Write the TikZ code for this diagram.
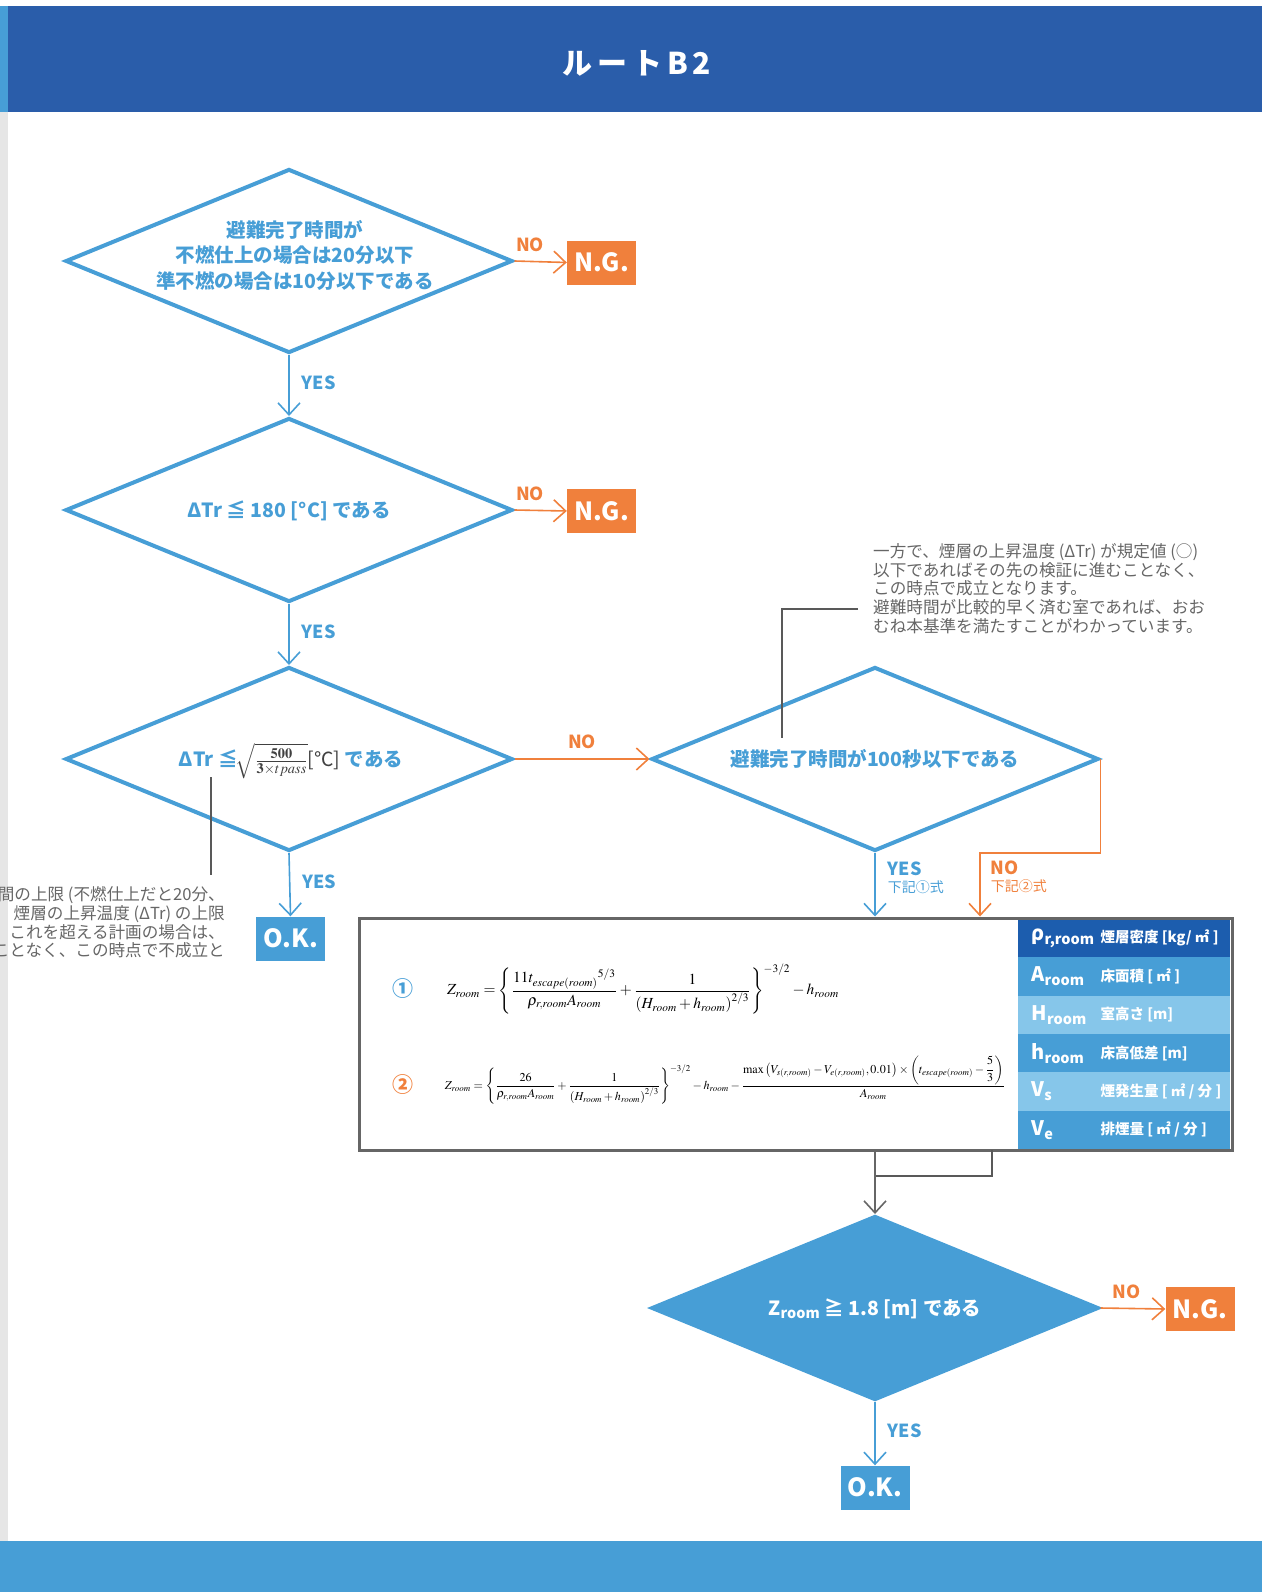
\documentclass[tikz,border=0pt]{standalone}
\usepackage{amsmath}
\usepackage{mathptmx}
\usepackage{graphicx}
\usepackage{fontspec}
\setmainfont{Noto Sans CJK JP}
\usetikzlibrary{shapes.geometric}
\usetikzlibrary{arrows.meta}
\usetikzlibrary{positioning}
\definecolor{bannerblue}{HTML}{2A5DAA}
\definecolor{flowblue}{HTML}{479ED6}
\definecolor{paleblue}{HTML}{86C6EA}
\definecolor{deepblue}{HTML}{1C5DAE}
\definecolor{ngorange}{HTML}{F0803C}
\definecolor{notegray}{HTML}{666666}
\definecolor{stripgray}{HTML}{E6E6E6}
\newcommand{\fs}[2]{\fontsize{#1}{#2}\selectfont}
\NewDocumentCommand{\dlabel}{O{0pt} O{7pt} m}{\smash{\raisebox{-#2}{\makebox[0pt]{\hspace{#1}\begin{tabular}{@{}c@{}}#3\end{tabular}}}}}
\newcommand{\symb}[2]{{\fs{20}{22}#1}\raisebox{-4pt}{\fs{14.5}{16}#2}}

\begin{document}
\begin{tikzpicture}[x=1pt,y=-1pt,
    decision/.style={diamond,draw=flowblue,line width=4pt,fill=white,
        minimum width=447pt,minimum height=184pt,inner sep=0pt,
        text=flowblue,font=\fs{19.5}{25.5}\bfseries},
    ngbox/.style={fill=ngorange,text=white,minimum width=69pt,
        minimum height=44pt,inner sep=0pt,font=\fs{25}{27}\bfseries},
    okbox/.style={ngbox,fill=flowblue},
    yesline/.style={draw=flowblue,line width=1.6pt,
        -{Straight Barb[length=12pt,width=22pt]}},
    noline/.style={yesline,draw=ngorange},
    grayline/.style={yesline,draw=black!60},
    yeslabel/.style={text=flowblue,font=\fs{18}{17}\bfseries,inner sep=0pt},
    nolabel/.style={yeslabel,text=ngorange},
    noteline/.style={draw=black!65,line width=1.2pt},
    notetext/.style={text=notegray,font=\fs{16.6}{18.7},inner sep=0pt}]
\useasboundingbox (0,0) rectangle (1262,1592);

% frame
\fill[stripgray] (0,112) rectangle (8,1541);
\fill[bannerblue] (0,6) rectangle (1262,112);
\fill[flowblue] (0,6) rectangle (8,112);
\fill[flowblue] (0,1541) rectangle (1262,1592);
\node[text=white,font=\fs{30}{32}\bfseries\addfontfeature{LetterSpace=16}] (title) at (637,63) {ルートB2};

\edef\cx{289}
\edef\dx{875}

% decisions
\node[decision] (d1) at (\cx,261) {\dlabel[12pt][1.5pt]{避難完了時間が\\不燃仕上の場合は20分以下\\準不燃の場合は10分以下である}};
\node[decision] (d2) at (\cx,510) {\dlabel{ΔTr ≦ 180 [°C] である}};
\node[decision] (d3) at (\cx,759) {\dlabel[4pt]{ΔTr ≦\hspace{-2pt}{\color{black!75}$\sqrt{\frac{\mathbf{500}}{\mathbf{3\times}\boldsymbol{tpass}}}$\mdseries[℃]} である}};
\node[decision] (d4) at (\dx,759) {\dlabel{避難完了時間が100秒以下である}};
\node[decision,fill=flowblue,text=white] (d5) at (\dx,1308) {\dlabel{Z\textsubscript{room} ≧ 1.8 [m] である}};

% results
\node[ngbox] (ng1) at (601.5,262.5) {N.G.};
\node[ngbox] (ng2) at (601.5,511) {N.G.};
\node[ngbox] (ng3) at (1200,1309) {N.G.};
\node[okbox] (ok1) at (290.5,938.5) {O.K.};
\node[okbox] (ok2) at (\dx,1487.5) {O.K.};

% table of symbols
\foreach \i/\c in {0/deepblue,1/flowblue,2/paleblue,3/flowblue,4/paleblue,5/flowblue}
    \fill[\c] (1018,{919+38.33*\i}) rectangle (1230,{957.33+38.33*\i});
\node[anchor=west,text=white,font=\bfseries] (sym1) at (1028,938) {\symb{ρ}{r,room}};
\node[anchor=west,text=white,font=\bfseries] (sym2) at (1028,976.5) {\symb{A}{room}};
\node[anchor=west,text=white,font=\bfseries] (sym3) at (1028,1014.8) {\symb{H}{room}};
\node[anchor=west,text=white,font=\bfseries] (sym4) at (1028,1053.2) {\symb{h}{room}};
\node[anchor=west,text=white,font=\bfseries] (sym5) at (1028,1091.5) {\symb{V}{s}};
\node[anchor=west,text=white,font=\bfseries] (sym6) at (1028,1129.8) {\symb{V}{e}};
\node[anchor=west,text=white,font=\fs{14.5}{16}\bfseries] (unit1) at (1097,938) {煙層密度 [kg/ ㎡ ]};
\node[anchor=west,text=white,font=\fs{14.5}{16}\bfseries] (unit2) at (1097,976.5) {床面積 [ ㎡ ]};
\node[anchor=west,text=white,font=\fs{14.5}{16}\bfseries] (unit3) at (1097,1014.8) {室高さ [m]};
\node[anchor=west,text=white,font=\fs{14.5}{16}\bfseries] (unit4) at (1097,1053.2) {床高低差 [m]};
\node[anchor=west,text=white,font=\fs{14.5}{16}\bfseries] (unit5) at (1097,1091.5) {煙発生量 [ ㎡ / 分 ]};
\node[anchor=west,text=white,font=\fs{14.5}{16}\bfseries] (unit6) at (1097,1129.8) {排煙量 [ ㎡ / 分 ]};

% formula box
\node[draw=black!60,line width=3pt,minimum width=873pt,minimum height=232pt,inner sep=0pt] (formulas) at (795.5,1034) {};
\node[text=flowblue,font=\fs{21}{22}\bfseries] (c1) at (403,989) {①};
\node (eq1) at (643,989) {\resizebox{392pt}{!}{$\displaystyle Z_{room}=\left\{\frac{11{t_{escape(room)}}^{5/3}}{\rho_{r,room}A_{room}}+\frac{1}{\left(H_{room}+h_{room}\right)^{2/3}}\right\}^{-3/2}-h_{room}$}};
\node[text=ngorange,font=\fs{21}{22}\bfseries] (c2) at (403,1085) {②};
\node (eq2) at (725,1080) {\resizebox{560pt}{!}{$\displaystyle Z_{room}=\left\{\frac{26}{\rho_{r,room}A_{room}}+\frac{1}{\left(H_{room}+h_{room}\right)^{2/3}}\right\}^{-3/2}-h_{room}-\frac{\displaystyle\max\left(V_{s(r,room)}-V_{e(r,room)},0.01\right)\times\left(t_{escape(room)}-\frac{5}{3}\right)}{A_{room}}$}};

% notes
\node[notetext,anchor=west,align=left] (note1) at (873,588.5) {一方で、煙層の上昇温度 (ΔTr) が規定値 (○)\\以下であればその先の検証に進むことなく、\\この時点で成立となります。\\避難時間が比較的早く済む室であれば、おお\\むね本基準を満たすことがわかっています。};
\node[notetext,anchor=east,align=right] (note2) at (225,922.5) {時間の上限 (不燃仕上だと20分、\\煙層の上昇温度 (ΔTr) の上限\\り、これを超える計画の場合は、\\ことなく、この時点で不成立と};
\coordinate (n1a) at (858,609);
\coordinate (n1b) at (782,738);
\coordinate (n2a) at (211,777);
\coordinate (n2b) at (211,875);
\draw[noteline] (n1a) -| (n1b);
\draw[noteline] (n2a) -- (n2b);

% connectors
\draw[yesline] (d1.south) -- (d2.north) node[midway,right=12pt,yshift=3pt,yeslabel] {YES};
\draw[yesline] (d2.south) -- (d3.north) node[midway,right=12pt,yshift=3pt,yeslabel] {YES};
\draw[yesline] (d3.south) -- (ok1.north) node[midway,right=12pt,yshift=3pt,yeslabel] {YES};
\draw[noline] (d1.east) -- (ng1.west) node[pos=0.3,above=9pt,nolabel] {NO};
\draw[noline] (d2.east) -- (ng2.west) node[pos=0.3,above=9pt,nolabel] {NO};
\draw[noline] (d3.east) -- (d4.west) node[midway,above=9pt,nolabel] {NO};
\draw[yesline] (d4.south) -- (d4.south |- formulas.north) node[midway,right=12pt,yshift=7pt,yeslabel,align=left] {YES\\{\fs{14}{16}\mdseries 下記①式}};
\coordinate (nobend) at (980,853);
\draw[noline] (d4.east) |- (nobend) -- (nobend |- formulas.north) node[midway,right=10pt,yshift=8pt,nolabel,align=left] {NO\\{\fs{14}{16}\mdseries 下記②式}};
\coordinate (tabfoot) at (992,1150);
\coordinate (join) at (\dx,1176);
\draw[noteline] (tabfoot) |- (join);
\draw[grayline] (d5.north |- formulas.south) -- (d5.north);
\draw[noline] (d5.east) -- (ng3.west) node[pos=0.4,above=9pt,nolabel] {NO};
\draw[yesline] (d5.south) -- (ok2.north) node[midway,right=12pt,yshift=3pt,yeslabel] {YES};
\end{tikzpicture}
\end{document}
